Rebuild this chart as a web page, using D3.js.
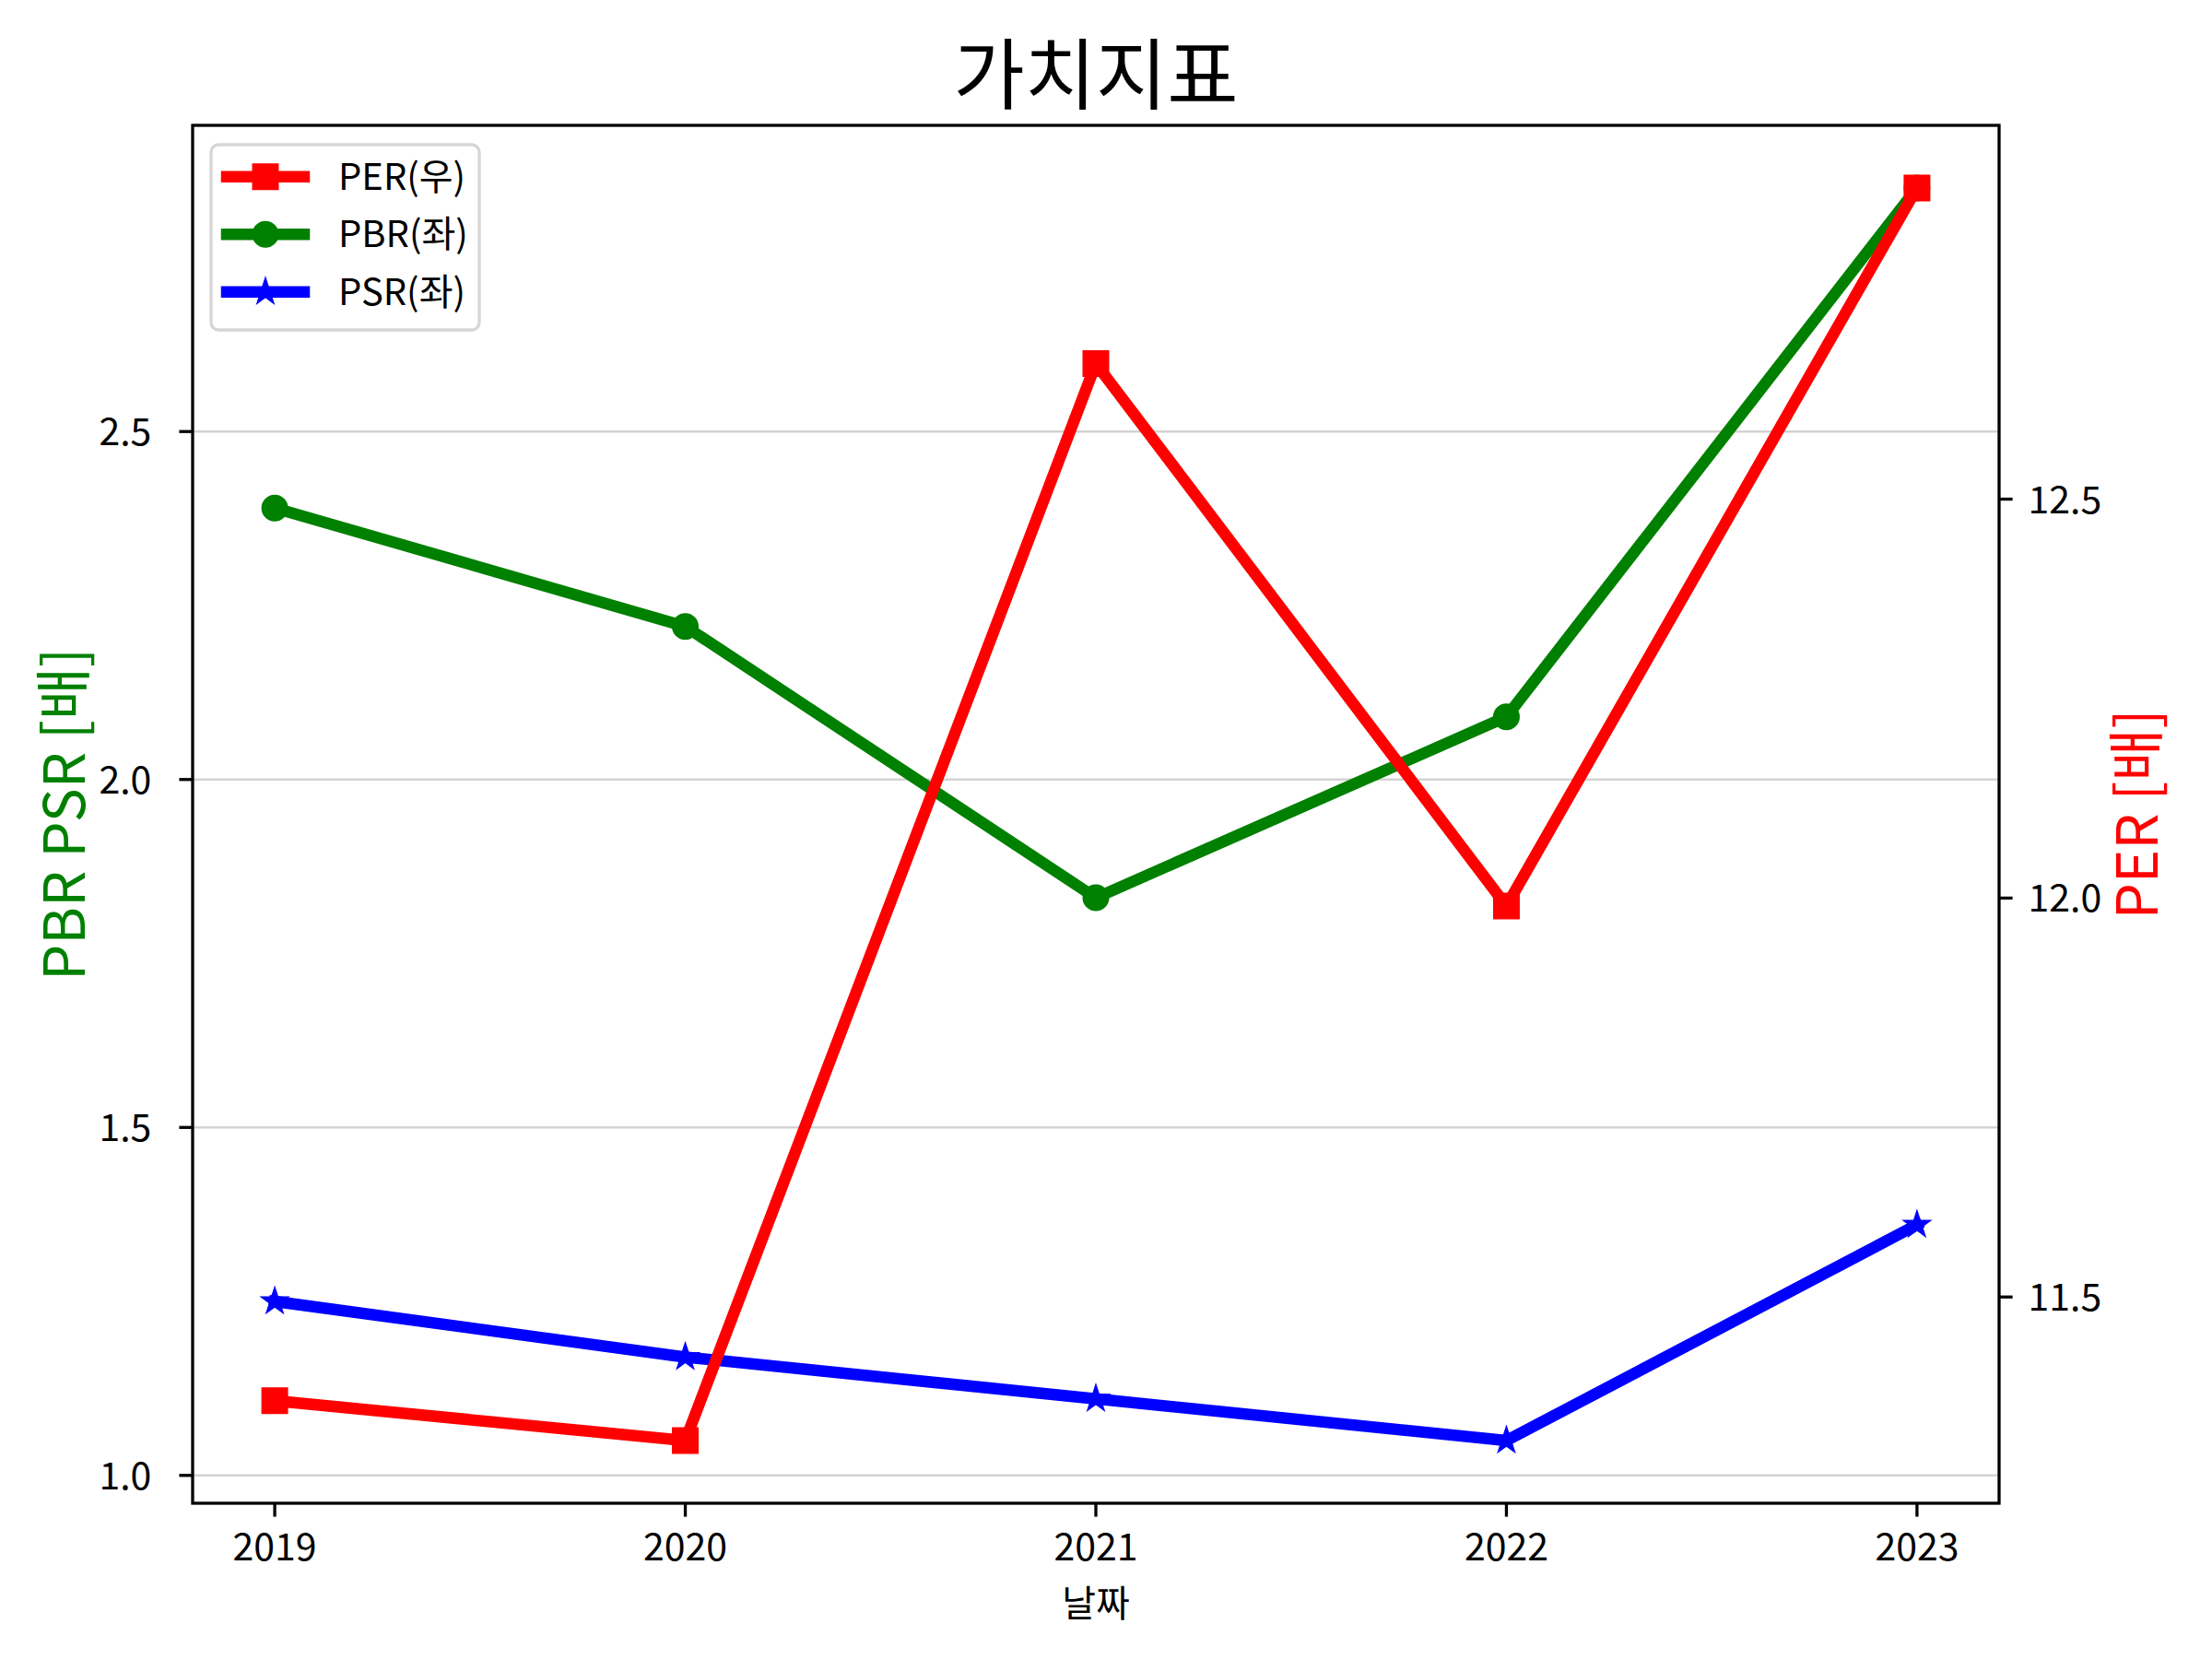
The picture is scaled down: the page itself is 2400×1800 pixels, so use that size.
<!DOCTYPE html>
<html>
<head>
<meta charset="utf-8">
<script src="https://cdn.jsdelivr.net/npm/d3@7"></script>
<style>
  body { margin: 0; background: #fff; }
  svg { display: block; font-family: 'Noto Sans CJK KR', 'Noto Sans', sans-serif; }
</style>
</head>
<body>
<div id="chart"></div>
<script>
// values
const years = [2019, 2020, 2021, 2022, 2023];
const per = [11.37, 11.32, 12.67, 11.99, 12.89];
const pbr = [2.39, 2.22, 1.83, 2.09, 2.85];
const psr = [1.25, 1.17, 1.11, 1.05, 1.36];

const leftTicks = [1.0, 1.5, 2.0, 2.5];
const rightTicks = [11.5, 12.0, 12.5];

const titleText = '가치지표';
const xLabel = '날짜';
const leftLabel = 'PBR PSR [배]';
const rightLabel = 'PER [배]';

const makePlot = () => {
  const size = { width: 2400, height: 1800 };
  const margin = {
    top: 136, right: 231, bottom: 169, left: 209,
  };
  const x0 = margin.left;
  const x1 = size.width - margin.right;
  const y0 = margin.top;
  const y1 = size.height - margin.bottom;

  const svg = d3.select('#chart')
    .append('svg')
    .attr('width', size.width)
    .attr('height', size.height);

  // matplotlib style 5% padding on every axis
  const padded = (arr) => {
    const [lo, hi] = d3.extent(arr);
    const p = (hi - lo) * 0.05;
    return [lo - p, hi + p];
  };

  const x = d3.scaleLinear().domain(padded(years)).range([x0, x1]);
  const yL = d3.scaleLinear().domain(padded([...pbr, ...psr])).range([y1, y0]);
  const yR = d3.scaleLinear().domain(padded(per)).range([y1, y0]);

  const tickLen = 14.6;
  const spineW = 3.3;
  const tickFont = 41;

  /**
   * Grid (left axis only)
   */
  svg.append('g')
    .selectAll('line')
    .data(leftTicks)
    .enter()
    .append('line')
    .attr('x1', x0)
    .attr('x2', x1)
    .attr('y1', (d) => yL(d))
    .attr('y2', (d) => yL(d))
    .attr('stroke', '#d3d3d3')
    .attr('stroke-width', 2.5);

  /**
   * Lines
   */
  const series = [
    { key: 'PBR', values: pbr, color: 'green', y: yL, symbol: d3.symbolCircle, symSize: 491 },
    { key: 'PSR', values: psr, color: 'blue', y: yL, symbol: d3.symbolStar, symSize: 140 },
    { key: 'PER', values: per, color: 'red', y: yR, symbol: d3.symbolSquare, symSize: 625 },
  ];

  series.forEach((s) => {
    const line = d3.line()
      .x((d, i) => x(years[i]))
      .y((d) => s.y(d));

    svg.append('path')
      .datum(s.values)
      .attr('d', line)
      .attr('fill', 'none')
      .attr('stroke', s.color)
      .attr('stroke-width', 12.5)
      .attr('stroke-linejoin', 'round')
      .attr('stroke-linecap', 'square');

    svg.append('g')
      .selectAll('path')
      .data(s.values)
      .enter()
      .append('path')
      .attr('d', d3.symbol().type(s.symbol).size(s.symSize))
      .attr('transform', (d, i) => `translate(${x(years[i])},${s.y(d)})`)
      .attr('fill', s.color)
      .attr('stroke', s.color)
      .attr('stroke-width', 4)
      .attr('stroke-linejoin', 'miter');
  });

  /**
   * Spines and ticks
   */
  svg.append('rect')
    .attr('x', x0)
    .attr('y', y0)
    .attr('width', x1 - x0)
    .attr('height', y1 - y0)
    .attr('fill', 'none')
    .attr('stroke', 'black')
    .attr('stroke-width', spineW);

  const xAxis = svg.append('g');
  xAxis.selectAll('line')
    .data(years)
    .enter()
    .append('line')
    .attr('x1', (d) => x(d))
    .attr('x2', (d) => x(d))
    .attr('y1', y1)
    .attr('y2', y1 + tickLen)
    .attr('stroke', 'black')
    .attr('stroke-width', spineW);
  xAxis.selectAll('text')
    .data(years)
    .enter()
    .append('text')
    .text((d) => d)
    .attr('x', (d) => x(d))
    .attr('y', y1 + 62)
    .attr('text-anchor', 'middle')
    .style('font-size', `${tickFont}px`);

  const leftAxis = svg.append('g');
  leftAxis.selectAll('line')
    .data(leftTicks)
    .enter()
    .append('line')
    .attr('x1', x0 - tickLen)
    .attr('x2', x0)
    .attr('y1', (d) => yL(d))
    .attr('y2', (d) => yL(d))
    .attr('stroke', 'black')
    .attr('stroke-width', spineW);
  leftAxis.selectAll('text')
    .data(leftTicks)
    .enter()
    .append('text')
    .text((d) => d3.format('.1f')(d))
    .attr('x', x0 - tickLen - 30)
    .attr('y', (d) => yL(d) + 15)
    .attr('text-anchor', 'end')
    .style('font-size', `${tickFont}px`);

  const rightAxis = svg.append('g');
  rightAxis.selectAll('line')
    .data(rightTicks)
    .enter()
    .append('line')
    .attr('x1', x1)
    .attr('x2', x1 + tickLen)
    .attr('y1', (d) => yR(d))
    .attr('y2', (d) => yR(d))
    .attr('stroke', 'black')
    .attr('stroke-width', spineW);
  rightAxis.selectAll('text')
    .data(rightTicks)
    .enter()
    .append('text')
    .text((d) => d3.format('.1f')(d))
    .attr('x', x1 + tickLen + 17)
    .attr('y', (d) => yR(d) + 15)
    .attr('text-anchor', 'start')
    .style('font-size', `${tickFont}px`);

  /**
   * Labels
   */
  const yMid = (y0 + y1) / 2;
  svg.append('text')
    .text(titleText)
    .attr('x', (x0 + x1) / 2)
    .attr('y', 112)
    .attr('text-anchor', 'middle')
    .style('font-size', '84px');

  svg.append('text')
    .text(xLabel)
    .attr('x', (x0 + x1) / 2)
    .attr('y', 1754)
    .attr('text-anchor', 'middle')
    .style('font-size', '40px');

  svg.append('text')
    .text(leftLabel)
    .attr('transform', `translate(92,${yMid}) rotate(-90)`)
    .attr('text-anchor', 'middle')
    .attr('fill', 'green')
    .style('font-size', '62px');

  svg.append('text')
    .text(rightLabel)
    .attr('transform', `translate(2341,${yMid}) rotate(-90)`)
    .attr('text-anchor', 'middle')
    .attr('fill', 'red')
    .style('font-size', '62px');

  /**
   * Legend
   */
  const legendItems = [series[2], series[0], series[1]];
  const legend = svg.append('g');
  legend.append('rect')
    .attr('x', 229)
    .attr('y', 157)
    .attr('width', 291)
    .attr('height', 201)
    .attr('rx', 8)
    .attr('fill', 'white')
    .attr('fill-opacity', 0.8)
    .attr('stroke', '#d6d6d6')
    .attr('stroke-width', 3.3);

  const rows = legend.selectAll('g')
    .data(legendItems)
    .enter()
    .append('g')
    .attr('transform', (d, i) => `translate(0,${191.7 + i * 62.5})`);

  rows.append('line')
    .attr('x1', 246)
    .attr('x2', 330)
    .attr('stroke', (d) => d.color)
    .attr('stroke-width', 12.5)
    .attr('stroke-linecap', 'square');

  rows.append('path')
    .attr('d', (d) => d3.symbol().type(d.symbol).size(d.symSize)())
    .attr('transform', 'translate(288,0)')
    .attr('fill', (d) => d.color)
    .attr('stroke', (d) => d.color)
    .attr('stroke-width', 4);

  rows.append('text')
    .text((d) => `${d.key}(${d.key === 'PER' ? '우' : '좌'})`)
    .attr('x', 367)
    .attr('y', 14)
    .style('font-size', '40px');
};

makePlot();
</script>
</body>
</html>
